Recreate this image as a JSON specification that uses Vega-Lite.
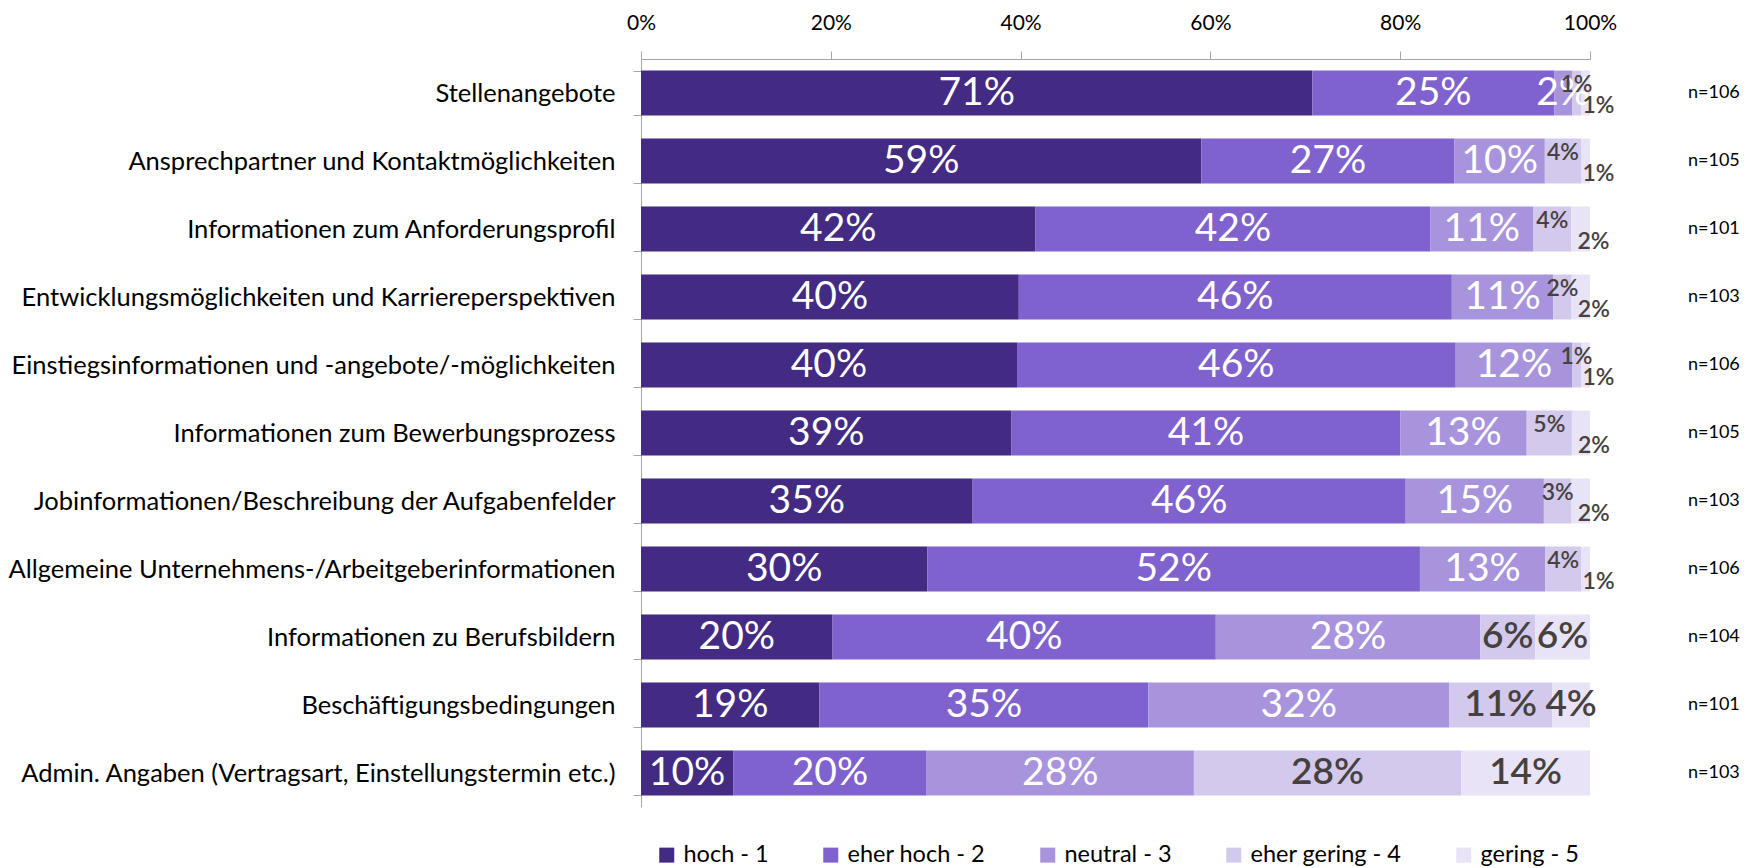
{
  "$schema": "https://vega.github.io/schema/vega-lite/v6.json",
  "width": 949,
  "height": 748,
  "padding": 0,
  "background": "white",
  "config": {
    "font": "Lato",
    "view": {"stroke": null},
    "axis": {"domainColor": "#a6a6a6", "tickColor": "#a6a6a6", "labelColor": "#000000", "grid": false, "title": null}
  },
  "encoding": {
    "y": {
      "field": "item",
      "type": "nominal",
      "sort": [
        "Stellenangebote",
        "Ansprechpartner und Kontaktmöglichkeiten",
        "Informationen zum Anforderungsprofil",
        "Entwicklungsmöglichkeiten und Karriereperspektiven",
        "Einstiegsinformationen und -angebote/-möglichkeiten",
        "Informationen zum Bewerbungsprozess",
        "Jobinformationen/Beschreibung der Aufgabenfelder",
        "Allgemeine Unternehmens-/Arbeitgeberinformationen",
        "Informationen zu Berufsbildern",
        "Beschäftigungsbedingungen",
        "Admin. Angaben (Vertragsart, Einstellungstermin etc.)"
      ],
      "scale": {"paddingInner": 0.34, "paddingOuter": 0.17},
      "axis": {"tickBand": "extent", "tickSize": 8, "labelPadding": 18, "labelFontSize": 25.5, "minExtent": 641, "maxExtent": 641, "labelLimit": 700}
    }
  },
  "layer": [
    {
      "data": {"values": [
        {"item": "Stellenangebote", "k": 1, "level": "hoch - 1", "share": 0.7075},
        {"item": "Stellenangebote", "k": 2, "level": "eher hoch - 2", "share": 0.2547},
        {"item": "Stellenangebote", "k": 3, "level": "neutral - 3", "share": 0.0189},
        {"item": "Stellenangebote", "k": 4, "level": "eher gering - 4", "share": 0.0094},
        {"item": "Stellenangebote", "k": 5, "level": "gering - 5", "share": 0.0094},
        {"item": "Ansprechpartner und Kontaktmöglichkeiten", "k": 1, "level": "hoch - 1", "share": 0.5905},
        {"item": "Ansprechpartner und Kontaktmöglichkeiten", "k": 2, "level": "eher hoch - 2", "share": 0.2667},
        {"item": "Ansprechpartner und Kontaktmöglichkeiten", "k": 3, "level": "neutral - 3", "share": 0.0952},
        {"item": "Ansprechpartner und Kontaktmöglichkeiten", "k": 4, "level": "eher gering - 4", "share": 0.0381},
        {"item": "Ansprechpartner und Kontaktmöglichkeiten", "k": 5, "level": "gering - 5", "share": 0.0095},
        {"item": "Informationen zum Anforderungsprofil", "k": 1, "level": "hoch - 1", "share": 0.4158},
        {"item": "Informationen zum Anforderungsprofil", "k": 2, "level": "eher hoch - 2", "share": 0.4158},
        {"item": "Informationen zum Anforderungsprofil", "k": 3, "level": "neutral - 3", "share": 0.1089},
        {"item": "Informationen zum Anforderungsprofil", "k": 4, "level": "eher gering - 4", "share": 0.0396},
        {"item": "Informationen zum Anforderungsprofil", "k": 5, "level": "gering - 5", "share": 0.0198},
        {"item": "Entwicklungsmöglichkeiten und Karriereperspektiven", "k": 1, "level": "hoch - 1", "share": 0.3981},
        {"item": "Entwicklungsmöglichkeiten und Karriereperspektiven", "k": 2, "level": "eher hoch - 2", "share": 0.4563},
        {"item": "Entwicklungsmöglichkeiten und Karriereperspektiven", "k": 3, "level": "neutral - 3", "share": 0.1068},
        {"item": "Entwicklungsmöglichkeiten und Karriereperspektiven", "k": 4, "level": "eher gering - 4", "share": 0.0194},
        {"item": "Entwicklungsmöglichkeiten und Karriereperspektiven", "k": 5, "level": "gering - 5", "share": 0.0194},
        {"item": "Einstiegsinformationen und -angebote/-möglichkeiten", "k": 1, "level": "hoch - 1", "share": 0.3962},
        {"item": "Einstiegsinformationen und -angebote/-möglichkeiten", "k": 2, "level": "eher hoch - 2", "share": 0.4623},
        {"item": "Einstiegsinformationen und -angebote/-möglichkeiten", "k": 3, "level": "neutral - 3", "share": 0.1226},
        {"item": "Einstiegsinformationen und -angebote/-möglichkeiten", "k": 4, "level": "eher gering - 4", "share": 0.0094},
        {"item": "Einstiegsinformationen und -angebote/-möglichkeiten", "k": 5, "level": "gering - 5", "share": 0.0094},
        {"item": "Informationen zum Bewerbungsprozess", "k": 1, "level": "hoch - 1", "share": 0.3905},
        {"item": "Informationen zum Bewerbungsprozess", "k": 2, "level": "eher hoch - 2", "share": 0.4095},
        {"item": "Informationen zum Bewerbungsprozess", "k": 3, "level": "neutral - 3", "share": 0.1333},
        {"item": "Informationen zum Bewerbungsprozess", "k": 4, "level": "eher gering - 4", "share": 0.0476},
        {"item": "Informationen zum Bewerbungsprozess", "k": 5, "level": "gering - 5", "share": 0.0190},
        {"item": "Jobinformationen/Beschreibung der Aufgabenfelder", "k": 1, "level": "hoch - 1", "share": 0.3495},
        {"item": "Jobinformationen/Beschreibung der Aufgabenfelder", "k": 2, "level": "eher hoch - 2", "share": 0.4563},
        {"item": "Jobinformationen/Beschreibung der Aufgabenfelder", "k": 3, "level": "neutral - 3", "share": 0.1456},
        {"item": "Jobinformationen/Beschreibung der Aufgabenfelder", "k": 4, "level": "eher gering - 4", "share": 0.0291},
        {"item": "Jobinformationen/Beschreibung der Aufgabenfelder", "k": 5, "level": "gering - 5", "share": 0.0194},
        {"item": "Allgemeine Unternehmens-/Arbeitgeberinformationen", "k": 1, "level": "hoch - 1", "share": 0.3019},
        {"item": "Allgemeine Unternehmens-/Arbeitgeberinformationen", "k": 2, "level": "eher hoch - 2", "share": 0.5189},
        {"item": "Allgemeine Unternehmens-/Arbeitgeberinformationen", "k": 3, "level": "neutral - 3", "share": 0.1321},
        {"item": "Allgemeine Unternehmens-/Arbeitgeberinformationen", "k": 4, "level": "eher gering - 4", "share": 0.0377},
        {"item": "Allgemeine Unternehmens-/Arbeitgeberinformationen", "k": 5, "level": "gering - 5", "share": 0.0094},
        {"item": "Informationen zu Berufsbildern", "k": 1, "level": "hoch - 1", "share": 0.2019},
        {"item": "Informationen zu Berufsbildern", "k": 2, "level": "eher hoch - 2", "share": 0.4038},
        {"item": "Informationen zu Berufsbildern", "k": 3, "level": "neutral - 3", "share": 0.2788},
        {"item": "Informationen zu Berufsbildern", "k": 4, "level": "eher gering - 4", "share": 0.0577},
        {"item": "Informationen zu Berufsbildern", "k": 5, "level": "gering - 5", "share": 0.0577},
        {"item": "Beschäftigungsbedingungen", "k": 1, "level": "hoch - 1", "share": 0.1881},
        {"item": "Beschäftigungsbedingungen", "k": 2, "level": "eher hoch - 2", "share": 0.3465},
        {"item": "Beschäftigungsbedingungen", "k": 3, "level": "neutral - 3", "share": 0.3168},
        {"item": "Beschäftigungsbedingungen", "k": 4, "level": "eher gering - 4", "share": 0.1089},
        {"item": "Beschäftigungsbedingungen", "k": 5, "level": "gering - 5", "share": 0.0396},
        {"item": "Admin. Angaben (Vertragsart, Einstellungstermin etc.)", "k": 1, "level": "hoch - 1", "share": 0.0971},
        {"item": "Admin. Angaben (Vertragsart, Einstellungstermin etc.)", "k": 2, "level": "eher hoch - 2", "share": 0.2039},
        {"item": "Admin. Angaben (Vertragsart, Einstellungstermin etc.)", "k": 3, "level": "neutral - 3", "share": 0.2816},
        {"item": "Admin. Angaben (Vertragsart, Einstellungstermin etc.)", "k": 4, "level": "eher gering - 4", "share": 0.2816},
        {"item": "Admin. Angaben (Vertragsart, Einstellungstermin etc.)", "k": 5, "level": "gering - 5", "share": 0.1359}
      ]},
      "transform": [
        {"stack": "share", "groupby": ["item"], "sort": [{"field": "k", "order": "ascending"}], "as": ["x0", "x1"]},
        {"calculate": "(datum.x0 + datum.x1) / 2", "as": "xm"}
      ],
      "layer": [
        {
          "mark": {"type": "bar"},
          "encoding": {
            "x": {
              "field": "x0", "type": "quantitative",
              "scale": {"domain": [0, 1], "nice": false},
              "axis": {"orient": "top", "values": [0, 0.2, 0.4, 0.6, 0.8, 1], "format": ".0%", "tickSize": 8, "labelPadding": 18, "labelFontSize": 21, "minExtent": 59, "maxExtent": 59, "labelFlush": false}
            },
            "x2": {"field": "x1"},
            "color": {
              "field": "level", "type": "nominal",
              "scale": {
                "domain": ["hoch - 1", "eher hoch - 2", "neutral - 3", "eher gering - 4", "gering - 5"],
                "range": ["#432a83", "#7f62cd", "#a893dd", "#d3c9ed", "#e8e3f6"]
              },
              "legend": {
                "title": null, "orient": "none", "direction": "horizontal",
                "legendX": 14, "legendY": 784,
                "symbolType": "square", "symbolSize": 225, "symbolStrokeWidth": 0,
                "labelFontSize": 23.5, "labelColor": "#000000", "columnPadding": 50, "labelOffset": 5
              }
            }
          }
        },
        {
          "transform": [{"filter": "datum.k <= 3"}],
          "mark": {"type": "text", "color": "white", "fontSize": 39, "align": "center", "baseline": "middle"},
          "encoding": {
            "x": {"field": "xm", "type": "quantitative"},
            "text": {"field": "share", "type": "quantitative", "format": ".0%"}
          }
        },
        {
          "transform": [{"filter": "datum.k >= 4 && indexof(['Informationen zu Berufsbildern','Beschäftigungsbedingungen','Admin. Angaben (Vertragsart, Einstellungstermin etc.)'], datum.item) >= 0"}],
          "mark": {"type": "text", "color": "#46413e", "fontSize": 37, "fontWeight": 600, "align": "center", "baseline": "middle"},
          "encoding": {
            "x": {"field": "xm", "type": "quantitative"},
            "text": {"field": "share", "type": "quantitative", "format": ".0%"}
          }
        },
        {
          "transform": [{"filter": "datum.k == 4 && indexof(['Informationen zu Berufsbildern','Beschäftigungsbedingungen','Admin. Angaben (Vertragsart, Einstellungstermin etc.)'], datum.item) < 0"}],
          "mark": {"type": "text", "color": "#46413e", "fontSize": 23, "fontWeight": 600, "align": "center", "baseline": "middle", "dy": -8},
          "encoding": {
            "x": {"field": "xm", "type": "quantitative"},
            "text": {"field": "share", "type": "quantitative", "format": ".0%"}
          }
        },
        {
          "transform": [{"filter": "datum.k == 5 && indexof(['Informationen zu Berufsbildern','Beschäftigungsbedingungen','Admin. Angaben (Vertragsart, Einstellungstermin etc.)'], datum.item) < 0"}],
          "mark": {"type": "text", "color": "#46413e", "fontSize": 23, "fontWeight": 600, "align": "center", "baseline": "middle", "dy": 13, "dx": 13},
          "encoding": {
            "x": {"field": "xm", "type": "quantitative"},
            "text": {"field": "share", "type": "quantitative", "format": ".0%"}
          }
        }
      ]
    },
    {
      "data": {"values": [
        {"item": "Stellenangebote", "n": "n=106"},
        {"item": "Ansprechpartner und Kontaktmöglichkeiten", "n": "n=105"},
        {"item": "Informationen zum Anforderungsprofil", "n": "n=101"},
        {"item": "Entwicklungsmöglichkeiten und Karriereperspektiven", "n": "n=103"},
        {"item": "Einstiegsinformationen und -angebote/-möglichkeiten", "n": "n=106"},
        {"item": "Informationen zum Bewerbungsprozess", "n": "n=105"},
        {"item": "Jobinformationen/Beschreibung der Aufgabenfelder", "n": "n=103"},
        {"item": "Allgemeine Unternehmens-/Arbeitgeberinformationen", "n": "n=106"},
        {"item": "Informationen zu Berufsbildern", "n": "n=104"},
        {"item": "Beschäftigungsbedingungen", "n": "n=101"},
        {"item": "Admin. Angaben (Vertragsart, Einstellungstermin etc.)", "n": "n=103"}
      ]},
      "mark": {"type": "text", "color": "#000000", "fontSize": 18, "align": "left", "baseline": "middle", "dx": 98},
      "encoding": {
        "x": {"datum": 1, "type": "quantitative"},
        "text": {"field": "n", "type": "nominal"}
      }
    }
  ]
}
